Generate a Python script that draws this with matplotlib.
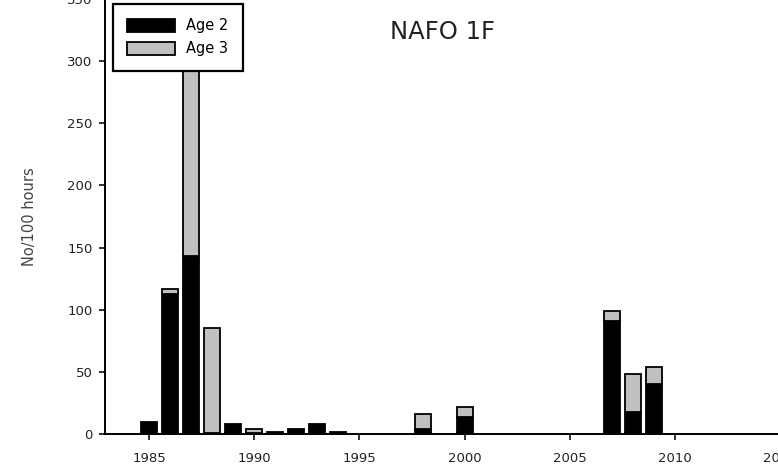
import matplotlib
matplotlib.use("Agg")
import matplotlib.pyplot as plt
import numpy as np

years = [1985, 1986, 1987, 1988, 1989, 1990, 1991, 1992, 1993, 1994, 1995, 1996, 1997,
         1998, 1999, 2000, 2001, 2002, 2003, 2004, 2005, 2006, 2007, 2008, 2009, 2010]
age2 = [10, 113, 143, 1, 8, 1, 2, 4, 8, 2, 0, 0, 0,
        4, 0, 14, 0, 0, 0, 0, 0, 0, 91, 18, 40, 0]
age3 = [0, 4, 175, 84, 0, 3, 0, 0, 0, 0, 0, 0, 0,
        12, 0, 8, 0, 0, 0, 0, 0, 0, 8, 30, 14, 0]
xticks = [1985, 1990, 1995, 2000, 2005, 2010, 2015]
yticks = [0, 50, 100, 150, 200, 250, 300, 350]

plt.rcParams['font.family'] = ['DejaVu Sans']

fig = plt.figure(figsize=(7.78, 4.70), dpi=100)
W, H = 778, 470
x0, x1 = 105, 812
y0, y1 = 434, -1
ax = fig.add_axes([x0 / W, (H - y0) / H, (x1 - x0) / W, (y0 - y1) / H])

a2 = np.array(age2, dtype=float)
a3 = np.array(age3, dtype=float)
mask2 = a2 > 0
mask3 = a3 > 0
yr = np.array(years)
ax.bar(yr[mask2], a2[mask2], width=0.76, color='black', edgecolor='black', linewidth=1.3, label='Age 2')
ax.bar(yr[mask3], a3[mask3], bottom=a2[mask3], width=0.76, color='#c0c0c0', edgecolor='black', linewidth=1.3, label='Age 3')

ax.set_xlim(1982.91, 2016.5)
ax.set_ylim(0, 350)
ax.set_xticks(xticks)
ax.set_yticks(yticks)
ax.tick_params(direction='out', length=4, width=1.3, labelsize=9.5, colors='#222222', pad=5)
ax.tick_params(axis='x', pad=9)
for s in ['left', 'bottom', 'top', 'right']:
    ax.spines[s].set_linewidth(1.4)

ax.set_ylabel('No/100 hours', fontsize=10.5, color='#444444', labelpad=22)
ax.text(0.4767, 0.925, 'NAFO 1F', transform=ax.transAxes, fontsize=17.5, ha='center', va='center', color='#222222')

leg = ax.legend(loc='upper left', bbox_to_anchor=(0.011, 0.989), borderaxespad=0,
                fancybox=False, edgecolor='black', fontsize=10.5, handlelength=3.3,
                handleheight=0.95, borderpad=1.0, labelspacing=0.55, handletextpad=0.7, framealpha=1)
leg.get_frame().set_linewidth(1.6)

fig.savefig('out.png', dpi=100)
